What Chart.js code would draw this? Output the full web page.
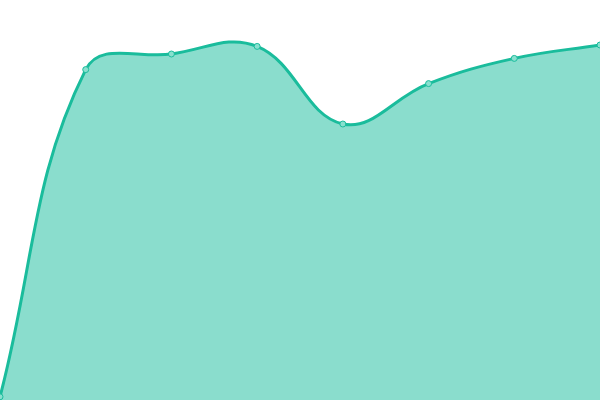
<!DOCTYPE html>
<html>
<head>
<meta charset="utf-8">
<script src="https://cdn.jsdelivr.net/npm/chart.js@4/dist/chart.umd.min.js"></script>
<style>
html,body{margin:0;padding:0;background:#fff;}
#wrap{width:600px;height:400px;}
</style>
</head>
<body>
<div id="wrap"><canvas id="c"></canvas></div>
<script>
const categories = ["Jan", "Feb", "Mar", "Apr", "May", "Jun", "Jul", "Aug"];
const seriesValues = [0.8, 82.6, 86.5, 88.4, 69.0, 79.1, 85.4, 88.75];
const yMin = 0;
const yMax = 100;

new Chart(document.getElementById('c'), {
  type: 'line',
  data: {
    labels: categories,
    datasets: [{
      data: seriesValues,
      borderColor: '#1abc9c',
      backgroundColor: 'rgba(26,188,156,0.51)',
      borderWidth: 3,
      fill: true,
      tension: 0.4,
      pointRadius: 3,
      pointBackgroundColor: 'rgba(137,224,207,1)',
      pointBorderColor: '#1abc9c',
      pointBorderWidth: 1
    }]
  },
  options: {
    responsive: true,
    maintainAspectRatio: false,
    animation: false,
    layout: { padding: 0, autoPadding: false },
    plugins: { legend: { display: false }, tooltip: { enabled: false } },
    scales: {
      x: { display: false, offset: false },
      y: { display: false, min: yMin, max: yMax }
    }
  }
});
</script>
</body>
</html>
